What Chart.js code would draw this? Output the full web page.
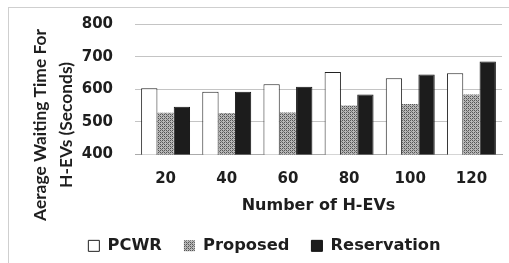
<!DOCTYPE html>
<html>
<head>
<meta charset="utf-8">
<script src="https://cdn.jsdelivr.net/npm/chart.js@4.4.0/dist/chart.umd.min.js"></script>
<style>
html,body{margin:0;padding:0;background:#fff;}
#wrap{position:relative;width:509px;height:263px;overflow:hidden;}
#frame{position:absolute;left:8px;top:7px;width:700px;height:400px;border-top:1px solid #cfcfcf;border-left:1px solid #cfcfcf;}
canvas{position:absolute;left:0;top:0;}
</style>
</head>
<body>
<div id="wrap"><div id="frame"></div><canvas id="c" width="509" height="263"></canvas></div>
<script>
const categories = ["20","40","60","80","100","120"];
const pcwr = [603, 592, 615, 653, 634, 649];
const proposed = [528, 527, 529, 550, 555, 584];
const reservation = [546, 592, 608, 584, 645, 685];
const yTitle = ["Aerage Waiting Time For", "H-EVs (Seconds)"];
const xTitle = "Number of H-EVs";
const seriesNames = ["PCWR", "Proposed", "Reservation"];

function makePattern(){
  const p = document.createElement('canvas');
  p.width = 4; p.height = 4;
  const g = p.getContext('2d');
  g.fillStyle = '#b8b8b8'; g.fillRect(0,0,4,4);
  g.fillStyle = '#555';
  g.fillRect(0,0,1,1); g.fillRect(2,2,1,1); g.fillRect(2,0,1,1); g.fillRect(0,2,1,1);
  g.fillStyle = '#7a7a7a';
  g.fillRect(1,1,1,1); g.fillRect(3,3,1,1);
  return document.getElementById('c').getContext('2d').createPattern(p,'repeat');
}
const pat = makePattern();
const FONT = "'DejaVu Sans', sans-serif";
const TFONT = "Lato, sans-serif";
const TXT = '#1e1e1e';

const yTitlePlugin = {
  id: 'yTitle',
  afterDraw(chart){
    const ctx = chart.ctx;
    const ca = chart.chartArea;
    ctx.save();
    ctx.fillStyle = TXT;
    ctx.font = "bold 16px " + TFONT;
    const w = ctx.measureText(yTitle[0]).width;
    const size = 16 * 192 / w;
    ctx.font = "bold " + size.toFixed(2) + "px " + TFONT;
    ctx.textAlign = 'center';
    ctx.textBaseline = 'alphabetic';
    const cy = ca.top + 101;
    const bases = [ca.left - 89, ca.left - 63];
    yTitle.forEach((t, i) => {
      ctx.save();
      ctx.translate(bases[i], cy);
      ctx.rotate(-Math.PI/2);
      ctx.fillText(t, 0, 0);
      ctx.restore();
    });
    ctx.restore();
  }
};

new Chart(document.getElementById('c'), {
  type: 'bar',
  data: {
    labels: categories,
    datasets: [
      {label: seriesNames[0], data: pcwr, backgroundColor:'#ffffff', borderColor:'#222', borderWidth:1},
      {label: seriesNames[1], data: proposed, backgroundColor: pat, borderColor:'#888', borderWidth:0},
      {label: seriesNames[2], data: reservation, backgroundColor:'#1c1c1c', borderColor:'#111', borderWidth:1}
    ]
  },
  plugins:[yTitlePlugin],
  options: {
    responsive:false, animation:false,
    layout:{padding:{left:27, right:7, top:24, bottom:-1}},
    datasets:{bar:{categoryPercentage:0.8, barPercentage:1.0}},
    plugins:{
      legend:{position:'bottom', labels:{boxWidth:11, boxHeight:11, padding:22, color:TXT, font:{family:FONT, size:16.3, weight:'bold'}}},
      tooltip:{enabled:false}
    },
    scales:{
      x:{
        grid:{display:false, drawTicks:false},
        border:{display:true, color:'#aaa'},
        ticks:{color:TXT, padding:16, font:{family:FONT, size:15, weight:'bold'}},
        title:{display:true, text:xTitle, color:TXT, padding:{top:-8,bottom:0}, font:{family:FONT, size:16, weight:'bold'}}
      },
      y:{
        min:400, max:800,
        afterFit(scale){ scale.width = 108; },
        ticks:{stepSize:100, color:TXT, padding:2, font:{family:FONT, size:15, weight:'bold'}},
        grid:{color:'#c4c4c4', drawTicks:true, tickLength:20, tickColor:'rgba(0,0,0,0)'},
        border:{display:false}
      }
    }
  }
});
</script>
</body>
</html>
